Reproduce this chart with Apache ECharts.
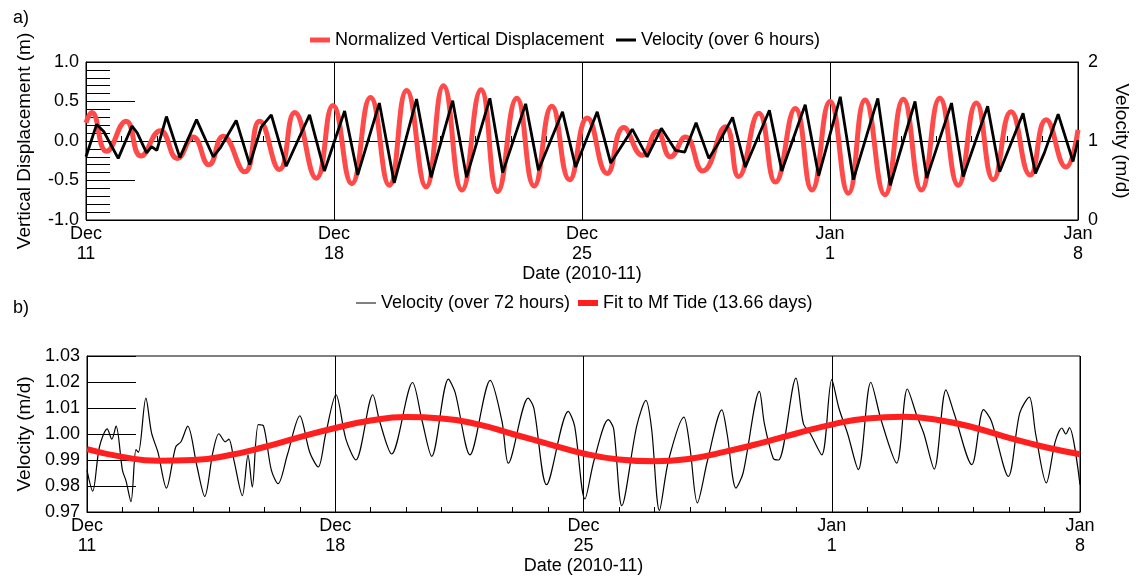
<!DOCTYPE html>
<html>
<head>
<meta charset="utf-8">
<script src="https://cdn.jsdelivr.net/npm/echarts@6/dist/echarts.min.js"></script>
<style>
html, body { margin: 0; padding: 0; background: #fff; }
#chart { width: 1139px; height: 579px; }
</style>
</head>
<body>
<div id="chart"></div>
<script>
// x values are days since Dec 11 2010 00:00
var dateTicks = ['Dec\n11', 'Dec\n18', 'Dec\n25', 'Jan\n1', 'Jan\n8'];

// a) normalized vertical displacement (m), read at peaks / troughs
var displacement = [
  [0, 0.23], [0.16, 0.36], [0.58, -0.13], [1.13, 0.25], [1.55, -0.19], [2.1, 0.13],
  [2.58, -0.22], [3.02, 0.05], [3.47, -0.30], [3.87, 0.06], [4.48, -0.39], [4.9, 0.25],
  [5.46, -0.36], [5.89, 0.36], [6.5, -0.47], [6.97, 0.45], [7.5, -0.54], [8.03, 0.55],
  [8.56, -0.56], [9.05, 0.64], [9.6, -0.58], [10.09, 0.70], [10.61, -0.62], [11.15, 0.65],
  [11.62, -0.64], [12.16, 0.54], [12.65, -0.57], [13.15, 0.44], [13.65, -0.49], [14.15, 0.29],
  [14.71, -0.41], [15.18, 0.17], [15.7, -0.18], [16.12, 0.12], [16.5, -0.20], [16.92, 0.05],
  [17.41, -0.38], [18.05, 0.18], [18.42, -0.45], [18.99, 0.35], [19.46, -0.52], [20.02, 0.41],
  [20.49, -0.62], [21.0, 0.50], [21.52, -0.66], [21.99, 0.52], [22.55, -0.68], [23.07, 0.53],
  [23.58, -0.62], [24.1, 0.54], [24.62, -0.56], [25.13, 0.48], [25.61, -0.49], [26.11, 0.37],
  [26.65, -0.43], [27.1, 0.27], [27.66, -0.33], [28, 0.14]
];

// a) velocity over 6 hours (m/d)
var velocity6h = [
  [0, 0.80], [0.3, 1.21], [0.5, 1.12], [0.91, 0.78], [1.3, 1.19], [1.45, 1.10], [1.71, 0.85],
  [1.85, 0.93], [2.0, 0.88], [2.27, 1.31], [2.65, 0.79], [3.12, 1.27], [3.59, 0.80], [3.8, 0.92],
  [4.24, 1.26], [4.62, 0.70], [4.95, 1.18], [5.23, 1.33], [5.65, 0.68], [6.31, 1.33], [6.73, 0.62],
  [7.3, 1.38], [7.67, 0.57], [8.28, 1.48], [8.7, 0.47], [9.33, 1.53], [9.74, 0.54], [10.35, 1.51],
  [10.74, 0.54], [11.4, 1.54], [11.76, 0.60], [12.41, 1.47], [12.77, 0.63], [13.45, 1.37],
  [13.82, 0.67], [14.43, 1.37], [14.81, 0.72], [15.42, 1.15], [15.84, 0.80], [16.24, 1.16],
  [16.64, 0.88], [16.9, 0.86], [17.22, 1.23], [17.58, 0.78], [17.85, 0.97], [18.25, 1.30],
  [18.61, 0.67], [19.29, 1.39], [19.64, 0.62], [20.3, 1.46], [20.68, 0.56], [21.29, 1.56],
  [21.66, 0.51], [22.35, 1.54], [22.7, 0.44], [23.4, 1.50], [23.73, 0.53], [24.43, 1.48],
  [24.76, 0.55], [25.45, 1.44], [25.79, 0.61], [26.45, 1.35], [26.8, 0.59], [27.05, 0.85],
  [27.44, 1.34], [27.86, 0.74], [28, 1.01]
];

// b) velocity over 72 hours (m/d)
var velocity72h = [
  [0, 0.986], [0.16, 0.978], [0.35, 0.995], [0.57, 1.002], [0.7, 0.998], [0.82, 1.003],
  [1.0, 0.986], [1.1, 0.982], [1.24, 0.974], [1.38, 0.994], [1.45, 0.993], [1.66, 1.0138],
  [1.82, 1.0004], [2.0, 0.993], [2.24, 0.9792], [2.5, 0.995], [2.65, 0.997], [2.84, 1.003],
  [3.1, 0.9876], [3.32, 0.976], [3.55, 0.993], [3.72, 1.0001], [3.9, 0.997], [4.0, 0.998],
  [4.15, 0.9895], [4.38, 0.9763], [4.54, 0.992], [4.66, 0.9796], [4.83, 1.0036], [4.98, 1.003],
  [5.2, 0.986], [5.39, 0.9809], [5.65, 0.992], [6.0, 1.007], [6.28, 0.993], [6.52, 0.9873],
  [6.73, 1.0], [7.02, 1.0151], [7.3, 0.998], [7.58, 0.990], [8.06, 1.0151], [8.25, 1.005],
  [8.59, 0.9923], [9.18, 1.0198], [9.45, 1.005], [9.72, 0.9914], [10.19, 1.0211], [10.38, 1.016],
  [10.8, 0.992], [11.37, 1.0206], [11.7, 1.005], [11.88, 0.9888], [12.44, 1.0138], [12.6, 1.010],
  [12.96, 0.9805], [13.57, 1.0087], [13.75, 1.003], [14.04, 0.9750], [14.3, 0.990], [14.7, 1.0055],
  [14.85, 1.002], [15.08, 0.9724], [15.5, 1.003], [15.76, 1.0129], [15.92, 1.002], [16.14, 0.9706],
  [16.4, 0.990], [16.83, 1.0065], [17.0, 0.995], [17.21, 0.9735], [17.5, 0.990], [17.9, 1.0093],
  [18.05, 1.000], [18.3, 0.9792], [18.5, 0.985], [18.96, 1.0164], [19.1, 1.004], [19.35, 0.9907],
  [19.5, 0.990], [19.99, 1.0215], [20.2, 1.004], [20.4, 1.000], [20.72, 0.992], [21.0, 1.0209],
  [21.2, 1.010], [21.45, 1.0], [21.75, 0.9863], [22.1, 1.0199], [22.4, 1.005], [22.83, 0.9888],
  [23.13, 1.0173], [23.4, 1.007], [23.6, 1.0], [23.89, 0.9865], [24.22, 1.017], [24.45, 1.008],
  [24.95, 0.9882], [25.28, 1.0094], [25.5, 1.005], [25.98, 0.9837], [26.3, 1.008], [26.57, 1.0142],
  [26.75, 1.000], [27.05, 0.9812], [27.3, 0.997], [27.49, 1.0023], [27.6, 1.0], [27.7, 1.0025],
  [28, 0.9805]
];

// b) fit to Mf tide, read once per day
var mfFit = [
  [0, 0.9942], [1, 0.9912], [2, 0.9897], [3, 0.9900], [4, 0.9918], [5, 0.9950], [6, 0.9988],
  [7, 1.0023], [8, 1.0052], [9, 1.0065], [10, 1.0060], [11, 1.0038], [12, 1.0000], [13, 0.9962],
  [14, 0.9925], [15, 0.9902], [16, 0.9895], [17, 0.9905], [18, 0.9932], [19, 0.9965], [20, 1.0002],
  [21, 1.0036], [22, 1.0060], [23, 1.0066], [24, 1.0054], [25, 1.0025], [26, 0.9985], [27, 0.9950],
  [28, 0.9922]
];

var font = 'Liberation Sans, Arial, Helvetica, sans-serif';
var black = '#000';
var redTop = '#ff4a4a';
var redFit = '#ff1f1f';

function dateAxis(gridIndex) {
  return {
    type: 'value', gridIndex: gridIndex, min: 0, max: 28, interval: 7,
    name: 'Date (2010-11)', nameLocation: 'middle', nameGap: 45,
    nameTextStyle: { fontSize: 18, color: black, fontFamily: font },
    axisLine: { show: true, lineStyle: { color: black, width: 1 } },
    axisTick: { show: true, inside: true, length: 5, lineStyle: { color: black } },
    minorTick: { show: true, splitNumber: 7, length: 5, lineStyle: { color: black, width: 1 } },
    axisLabel: {
      color: black, fontSize: 18, lineHeight: 20, margin: 4, fontFamily: font,
      formatter: function (v) { return dateTicks[Math.round(v / 7)]; }
    },
    splitLine: { show: true, lineStyle: { color: black, width: 1 } }
  };
}

function legendItem(name, left, top, height) {
  return {
    left: left, top: top, itemWidth: 20, itemHeight: height, icon: 'rect',
    textStyle: { fontSize: 18, color: black, fontFamily: font },
    data: [name]
  };
}

var chart = echarts.init(document.getElementById('chart'));
var option = {
  animation: false,
  textStyle: { fontFamily: font },
  title: [
    { text: 'a)', left: 8, top: 4, textStyle: { fontSize: 18, fontWeight: 'normal', color: black, fontFamily: font } },
    { text: 'b)', left: 8, top: 294, textStyle: { fontSize: 18, fontWeight: 'normal', color: black, fontFamily: font } }
  ],
  legend: [
    legendItem('Normalized Vertical Displacement', 305, 26, 5),
    legendItem('Velocity (over 6 hours)', 611, 26, 3),
    legendItem('Velocity (over 72 hours)', 351, 289, 1),
    legendItem('Fit to Mf Tide (13.66 days)', 573, 289, 6)
  ],
  grid: [
    { left: 86, right: 58, top: 62, height: 158, show: true, borderColor: black, borderWidth: 1 },
    { left: 87, right: 59, top: 356, height: 156, show: true, borderColor: black, borderWidth: 1 }
  ],
  xAxis: [dateAxis(0), dateAxis(1)],
  yAxis: [{
    type: 'value', gridIndex: 0, position: 'left', min: -1, max: 1, interval: 0.5,
    name: 'Vertical Displacement (m)', nameLocation: 'middle', nameGap: 52,
    nameTextStyle: { fontSize: 19, color: black, fontFamily: font },
    axisLine: { show: true, lineStyle: { color: black } },
    axisTick: { show: true, inside: true, length: 49, lineStyle: { color: black } },
    minorTick: { show: true, splitNumber: 5, length: 24, lineStyle: { color: black, width: 1 } },
    axisLabel: { color: black, fontSize: 18, margin: 7, formatter: function (v) { return v.toFixed(1); } },
    splitLine: { show: false }
  }, {
    type: 'value', gridIndex: 0, position: 'right', min: 0, max: 2, interval: 1,
    name: 'Velocity (m/d)', nameLocation: 'middle', nameGap: 34, nameRotate: -90,
    nameTextStyle: { fontSize: 19, color: black, fontFamily: font },
    axisLine: { show: true, lineStyle: { color: black } },
    axisTick: { show: false },
    axisLabel: { color: black, fontSize: 18, margin: 10 },
    splitLine: { show: true, lineStyle: { color: black, width: 1 } }
  }, {
    type: 'value', gridIndex: 1, position: 'left', min: 0.97, max: 1.03, interval: 0.01,
    name: 'Velocity (m/d)', nameLocation: 'middle', nameGap: 52,
    nameTextStyle: { fontSize: 19, color: black, fontFamily: font },
    axisLine: { show: true, lineStyle: { color: black } },
    axisTick: { show: true, inside: true, length: 49, lineStyle: { color: black } },
    axisLabel: { color: black, fontSize: 18, margin: 7, formatter: function (v) { return v.toFixed(2); } },
    splitLine: { show: false }
  }],
  series: [{
    name: 'Normalized Vertical Displacement', type: 'line', xAxisIndex: 0, yAxisIndex: 0,
    data: displacement, smooth: 0.5, symbol: 'none', z: 2,
    itemStyle: { color: redTop }, lineStyle: { color: redTop, width: 5 }
  }, {
    name: 'Velocity (over 6 hours)', type: 'line', xAxisIndex: 0, yAxisIndex: 1,
    data: velocity6h, symbol: 'none', z: 3,
    itemStyle: { color: black }, lineStyle: { color: black, width: 2.8 }
  }, {
    name: 'Velocity (over 72 hours)', type: 'line', xAxisIndex: 1, yAxisIndex: 2,
    data: velocity72h, smooth: 0.3, symbol: 'none', z: 2,
    itemStyle: { color: black }, lineStyle: { color: black, width: 1.2 }
  }, {
    name: 'Fit to Mf Tide (13.66 days)', type: 'line', xAxisIndex: 1, yAxisIndex: 2,
    data: mfFit, smooth: 0.5, symbol: 'none', z: 3,
    itemStyle: { color: redFit }, lineStyle: { color: redFit, width: 6 }
  }]
};
chart.setOption(option);
</script>
</body>
</html>
